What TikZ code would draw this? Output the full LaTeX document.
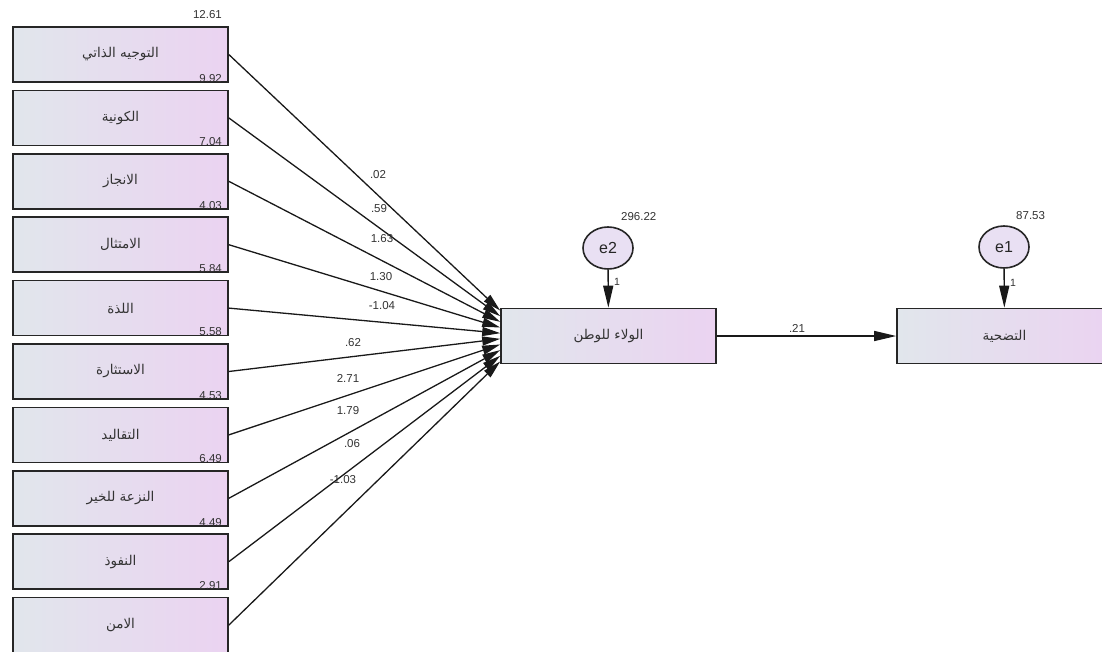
\documentclass[tikz,border=0pt]{standalone}
\usepackage{fontspec}
\setmainfont{Liberation Sans}
\newfontfamily\arabicfont[Script=Arabic]{DejaVu Sans}
\TeXXeTstate=1
\usetikzlibrary{arrows.meta,calc,shapes.geometric}
\definecolor{boxL}{HTML}{E1E6EC}
\definecolor{boxR}{HTML}{EBD3F1}
\definecolor{errF}{HTML}{E9E0F3}
\definecolor{txt}{HTML}{333333}
\begin{document}
\begin{tikzpicture}[x=1pt,y=-1pt,
  vbox/.style={draw=black!85,line width=1.6pt,minimum width=215pt,minimum height=55pt,inner sep=0pt,
    left color=boxL,right color=boxR,font=\arabicfont\fontsize{13.5}{15}\selectfont,text=black!80},
  errc/.style={ellipse,draw=black!85,line width=1.6pt,fill=errF,minimum width=50pt,minimum height=42pt,inner sep=0pt,
    font=\fontsize{16}{18}\selectfont,text=black!85},
  num/.style={font=\fontsize{11.5}{13}\selectfont,text=txt,inner sep=0pt},
  path/.style={line width=1.3pt,draw=black!90,-{Triangle[length=18pt,width=9pt]}},
  cline/.style={line width=1.4pt,draw=black!90,-{Triangle[length=22pt,width=10pt]}},
]
\useasboundingbox (0,0) rectangle (1102,651);
\clip (0,0) rectangle (1102,651);
\fill[white] (0,0) rectangle (1102,651);

\foreach \name [count=\i from 0] in {التوجيه الذاتي,الكونية,الانجاز,الامتثال,اللذة,الاستثارة,التقاليد,النزعة للخير,النفوذ,الامن}{
  \node[vbox] (b\i) at (120.5,{54.5+63.4*\i}) {\beginR\name\endR};
}
\foreach \v [count=\i from 0] in {12.61,9.92,7.04,4.03,5.84,5.58,4.53,6.49,4.49,2.91}{
  \node[num,anchor=east] (v\i) at (222,{27+63.4*\i-12}) {\v};
}

\node[vbox] (mid) at (608.5,336) {\beginR الولاء للوطن\endR};
\node[vbox] (out) at (1004.5,336) {\beginR التضحية\endR};
\node[errc] (e2) at (608,248) {e2};
\node[errc] (e1) at (1004,247) {e1};
\node[num,anchor=west] (ve2) at (621,217) {296.22};
\node[num,anchor=west] (ve1) at (1016,216) {87.53};

\foreach \i in {0,...,9}{
  \coordinate (t\i) at ($(mid.north west)!{(\i+0.5)/10}!(mid.south west)$);
  \draw[path] (b\i.east) -- (t\i);
}
\draw[cline] (e2) -- (mid);
\draw[cline] (e1) -- (out);
\draw[cline] (mid) -- (out);

\node[num,font=\fontsize{10.5}{12}\selectfont] (l1) at (617,282) {1};
\node[num,font=\fontsize{10.5}{12}\selectfont] (l2) at (1013,283) {1};
\node[num] (c0) at (378,175) {.02};
\node[num] (c1) at (379,209) {.59};
\node[num] (c2) at (382,239) {1.63};
\node[num] (c3) at (381,277) {1.30};
\node[num] (c4) at (382,306) {-1.04};
\node[num] (c5) at (353,343) {.62};
\node[num] (c6) at (348,378) {2.71};
\node[num] (c7) at (348,411) {1.79};
\node[num] (c8) at (352,444) {.06};
\node[num] (c9) at (343,480) {-1.03};
\node[num] (c10) at (797,328) {.21};
\end{tikzpicture}
\end{document}
